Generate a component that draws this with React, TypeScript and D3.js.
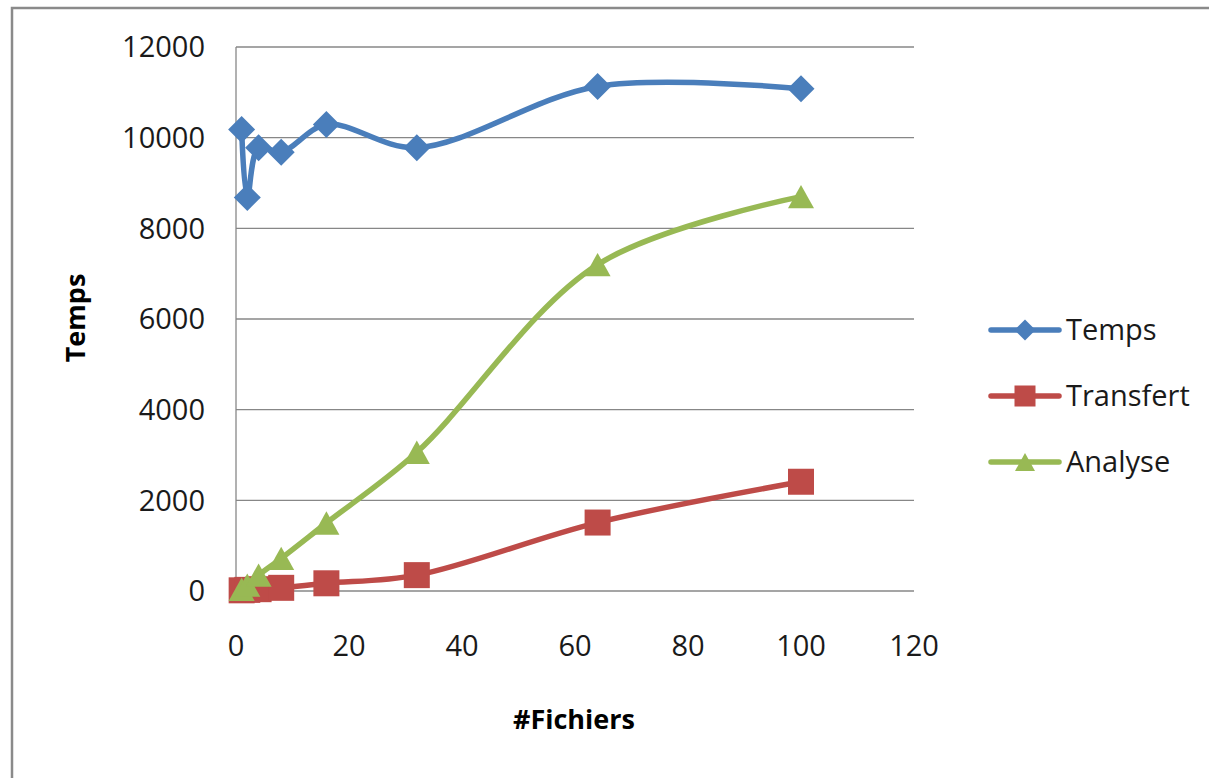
import React from "react";
import * as d3 from "d3";

// Number of files processed (x axis)
const fichiers = [1, 2, 4, 8, 16, 32, 64, 100];

// Measured durations per series
const temps = [10180, 8680, 9780, 9680, 10290, 9780, 11130, 11080];
const transfert = [15, 25, 40, 70, 170, 350, 1510, 2410];
const analyse = [40, 130, 350, 720, 1500, 3060, 7200, 8700];

const xTicks = [0, 20, 40, 60, 80, 100, 120];
const yTicks = [0, 2000, 4000, 6000, 8000, 10000, 12000];

const seriesNames = ["Temps", "Transfert", "Analyse"];
const seriesValues = [temps, transfert, analyse];
const seriesColors = ["#4a7ebb", "#be4b48", "#98b954"];
const seriesMarkers = ["diamond", "square", "triangle"];

const FONT = "'Open Sans', 'Liberation Sans', sans-serif";

function Marker({ kind, x, y, s, color }: { kind: string; x: number; y: number; s: number; color: string }) {
  if (kind === "diamond") {
    const h = s / 2;
    return <path d={`M${x},${y - h}L${x + h},${y}L${x},${y + h}L${x - h},${y}Z`} fill={color} />;
  }
  if (kind === "square") {
    return <rect x={x - s / 2} y={y - s / 2} width={s} height={s} fill={color} />;
  }
  const h = s * 0.9;
  return <path d={`M${x},${y - h / 2}L${x + s / 2},${y + h / 2}L${x - s / 2},${y + h / 2}Z`} fill={color} />;
}

export default function App() {
  const x = d3.scaleLinear().domain([0, 120]).range([236, 914]);
  const y = d3.scaleLinear().domain([0, 12000]).range([591, 47]);

  const line = d3
    .line<[number, number]>()
    .x((d) => x(d[0]))
    .y((d) => y(d[1]))
    .curve(d3.curveCatmullRom.alpha(0.5));

  const legendY = [330, 396, 462];

  return (
    <svg
      width={1209}
      height={778}
      style={{ position: "absolute", left: 0, top: 0, background: "#fff" }}
      fontFamily={FONT}
    >
      <rect x={0} y={0} width={1209} height={778} fill="#fff" />
      {/* chart frame */}
      <rect x={12} y={8} width={1300} height={900} fill="none" stroke="#8a8a8a" strokeWidth={2.5} />

      {/* horizontal gridlines */}
      {yTicks.map((t) => (
        <line key={t} x1={x(0)} x2={x(120)} y1={y(t)} y2={y(t)} stroke="#878787" strokeWidth={1.3} />
      ))}
      {/* y axis line */}
      <line x1={x(0)} x2={x(0)} y1={y(12000)} y2={y(0)} stroke="#878787" strokeWidth={1.3} />

      {/* y tick labels */}
      {yTicks.map((t) => (
        <text key={t} x={205} y={y(t)} dy="0.36em" textAnchor="end" fontSize={29} fill="#1a1a1a">
          {t}
        </text>
      ))}
      {/* x tick labels */}
      {xTicks.map((t) => (
        <text key={t} x={x(t)} y={656} textAnchor="middle" fontSize={29} fill="#1a1a1a">
          {t}
        </text>
      ))}

      {/* axis titles */}
      <text x={574} y={729} textAnchor="middle" fontSize={27} fontWeight="bold" fill="#000">
        #Fichiers
      </text>
      <text
        transform={`translate(85,318) rotate(-90)`}
        textAnchor="middle"
        fontSize={27}
        fontWeight="bold"
        fill="#000"
      >
        Temps
      </text>

      {/* series */}
      {seriesValues.map((vals, i) => {
        const pts = fichiers.map((f, j) => [f, vals[j]] as [number, number]);
        return (
          <g key={seriesNames[i]}>
            <path d={line(pts) || ""} fill="none" stroke={seriesColors[i]} strokeWidth={5.5} strokeLinecap="round" strokeLinejoin="round" />
            {pts.map((p, j) => (
              <Marker key={j} kind={seriesMarkers[i]} x={x(p[0])} y={y(p[1])} s={seriesMarkers[i] === "diamond" ? 27 : 26} color={seriesColors[i]} />
            ))}
          </g>
        );
      })}

      {/* legend */}
      {seriesNames.map((name, i) => (
        <g key={name}>
          <line x1={991} x2={1059} y1={legendY[i]} y2={legendY[i]} stroke={seriesColors[i]} strokeWidth={5.5} strokeLinecap="round" />
          <Marker kind={seriesMarkers[i]} x={1025} y={legendY[i]} s={seriesMarkers[i] === "triangle" ? 20 : 21} color={seriesColors[i]} />
          <text x={1066} y={legendY[i]} dy="0.36em" fontSize={29} fill="#1a1a1a">
            {name}
          </text>
        </g>
      ))}
    </svg>
  );
}
